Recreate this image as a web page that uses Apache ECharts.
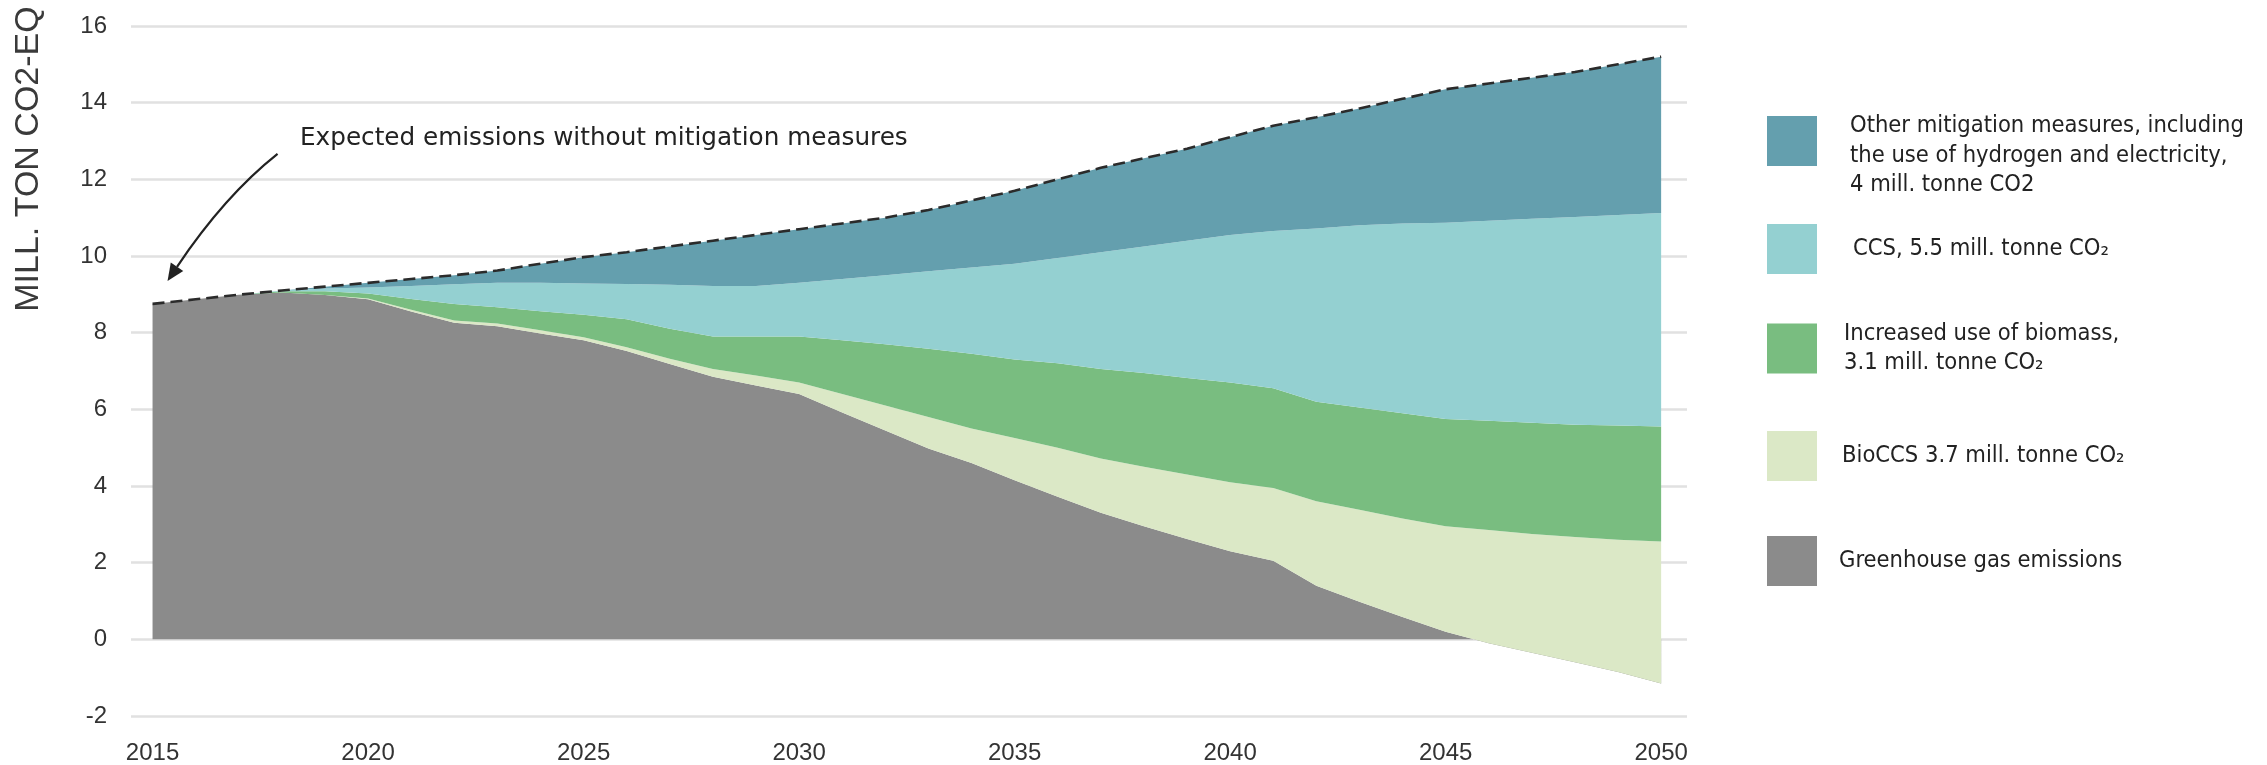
<!DOCTYPE html>
<html><head><meta charset="utf-8">
<script src="https://cdn.jsdelivr.net/npm/echarts@6/dist/echarts.min.js"></script>
<style>html,body{margin:0;padding:0;background:#fff}#c{width:2267px;height:765px}</style>
</head><body><div id="c"></div>
<script>
// ---- data (mill. tonne CO2-eq), band thicknesses stacked from the bottom ----
const years = [2015,2016,2017,2018,2019,2020,2021,2022,2023,2024,2025,2026,2027,2028,2029,2030,2031,2032,2033,2034,2035,2036,2037,2038,2039,2040,2041,2042,2043,2044,2045,2046,2047,2048,2049,2050];
const greenhouse = [8.75,8.87,8.99,9.05,8.98,8.87,8.55,8.26,8.17,7.98,7.80,7.52,7.18,6.85,6.62,6.40,5.92,5.45,4.98,4.60,4.15,3.72,3.30,2.95,2.62,2.30,2.05,1.40,0.98,0.58,0.20,-0.10,-0.35,-0.60,-0.85,-1.15];
const bioccs     = [0,0,0,0,0,0.02,0.05,0.06,0.07,0.08,0.08,0.10,0.14,0.20,0.26,0.30,0.48,0.65,0.82,0.90,1.10,1.28,1.42,1.55,1.68,1.80,1.90,2.20,2.40,2.57,2.75,2.95,3.10,3.27,3.45,3.70];
const biomass    = [0,0,0,0.03,0.10,0.13,0.28,0.43,0.42,0.50,0.59,0.73,0.78,0.85,1.02,1.20,1.40,1.60,1.78,1.95,2.05,2.20,2.33,2.45,2.52,2.60,2.60,2.60,2.67,2.75,2.80,2.85,2.90,2.93,2.98,3.00];
const ccs        = [0,0,0,0.02,0.07,0.16,0.34,0.51,0.64,0.74,0.81,0.92,1.15,1.32,1.32,1.40,1.60,1.80,2.02,2.25,2.50,2.75,3.05,3.30,3.58,3.85,4.10,4.52,4.75,4.95,5.12,5.22,5.32,5.42,5.49,5.57];
const other      = [0,0,0,0,0.05,0.12,0.18,0.24,0.32,0.50,0.69,0.83,1.00,1.18,1.33,1.40,1.45,1.50,1.60,1.75,1.90,2.05,2.20,2.30,2.40,2.55,2.75,2.90,3.05,3.25,3.48,3.58,3.68,3.78,3.93,4.08];
const xTickLabels = [2015,2020,2025,2030,2035,2040,2045,2050];
const seriesNames = ['Greenhouse gas emissions','BioCCS','Increased use of biomass','CCS','Other mitigation measures'];
const legendLabels = [
  '\nOther mitigation measures, including\nthe use of hydrogen and electricity,\n4 mill. tonne CO2',
  'CCS, 5.5 mill. tonne CO\u2082',
  'Increased use of biomass,\n3.1 mill. tonne CO\u2082',
  'BioCCS 3.7 mill. tonne CO\u2082',
  'Greenhouse gas emissions'
];
const annotationText = 'Expected emissions without mitigation measures';
const yTitle = 'MILL. TON CO2-EQ';

const colors = ['#8b8b8b','#dbe8c6','#79bd80','#94d0d1','#649fae'];
const values = [greenhouse, bioccs, biomass, ccs, other];
const condensed = "'DejaVu Sans Condensed','Liberation Sans Narrow','DejaVu Sans',sans-serif";
const wide = "'DejaVu Sans',sans-serif";
const plain = "'Liberation Sans',Arial,'Helvetica Neue',sans-serif";

const chart = echarts.init(document.getElementById('c'), null, {renderer:'canvas'});

// value is dimension 0 so that the stack applies to the y values
const series = values.map((arr, k) => ({
  name: seriesNames[k],
  type: 'line',
  stack: 'total',
  stackStrategy: 'all',
  symbol: 'none',
  color: colors[k],
  itemStyle: {color: colors[k]},
  lineStyle: k === 4 ? {color:'#2b2b2b', width:2.6, type:[12,6]} : {width:0},
  areaStyle: {color: colors[k], opacity: 1},
  emphasis: {disabled: true},
  silent: true,
  encode: {x: 1, y: 0},
  data: years.map((y, i) => [arr[i], y])
}));

const legendOrder = [4,3,2,1,0];
const legendTops = [82, 224, 319, 431, 536];
const legendPadLeft = [28, 31, 22, 20, 17];
const legends = legendOrder.map((sIdx, j) => ({
  left: 1767, top: legendTops[j], orient: 'vertical', padding: 0,
  itemWidth: 50, itemHeight: 50, icon: 'rect', selectedMode: false,
  itemStyle: {borderWidth: 0},
  data: [seriesNames[sIdx]],
  formatter: () => legendLabels[j],
  textStyle: {fontFamily: condensed, fontSize: 23.5, lineHeight: 29.5, color: '#222', padding: [0,0,0,legendPadLeft[j]]}
}));

chart.setOption({
  animation: false,
  backgroundColor: '#fff',
  grid: {left: 131, right: 580, top: 26, bottom: 49, containLabel: false},
  xAxis: {
    type: 'value', min: 2014.5, max: 2050.6,
    axisLine: {show: false}, axisTick: {show: false}, splitLine: {show: false},
    axisLabel: {customValues: xTickLabels, formatter: v => String(v), fontFamily: plain, fontSize: 24, color: '#333', margin: 25}
  },
  yAxis: {
    type: 'value', min: -2, max: 16, interval: 2,
    axisLine: {show: false}, axisTick: {show: false},
    splitLine: {lineStyle: {color: '#e1e1e1', width: 2.5}},
    axisLabel: {fontFamily: plain, fontSize: 24, color: '#333', margin: 24}
  },
  legend: legends,
  series: series
});

// annotation anchored on the first data point
const p = chart.convertToPixel({gridIndex: 0}, [years[0], greenhouse[0] + bioccs[0] + biomass[0] + ccs[0] + other[0]]);
const P0 = [p[0] + 125, p[1] - 150], C = [p[0] + 72, p[1] - 108], P2 = [p[0] + 15, p[1] - 23];
const dx = P2[0] - C[0], dy = P2[1] - C[1], L = Math.hypot(dx, dy);
const ux = dx / L, uy = dy / L, hl = 17, hw = 7.5;
const bx = P2[0] - ux * hl, by = P2[1] - uy * hl;

chart.setOption({
  graphic: [
    {type: 'text', x: 29, y: 159, rotation: Math.PI / 2, style: {text: yTitle, fontFamily: plain, fontSize: 34, fill: '#3a3a3a', align: 'center', verticalAlign: 'middle'}},
    {type: 'text', x: 300, y: 139, style: {text: annotationText, fontFamily: wide, fontSize: 24.7, fill: '#222', align: 'left', verticalAlign: 'middle'}, z: 20},
    {type: 'bezierCurve', shape: {x1: P0[0], y1: P0[1], cpx1: C[0], cpy1: C[1], x2: bx, y2: by}, style: {stroke: '#222', lineWidth: 2.2, fill: null}, z: 20},
    {type: 'polygon', shape: {points: [P2, [bx - uy * hw, by + ux * hw], [bx + uy * hw, by - ux * hw]]}, style: {fill: '#222'}, z: 20}
  ]
});
</script></body></html>
